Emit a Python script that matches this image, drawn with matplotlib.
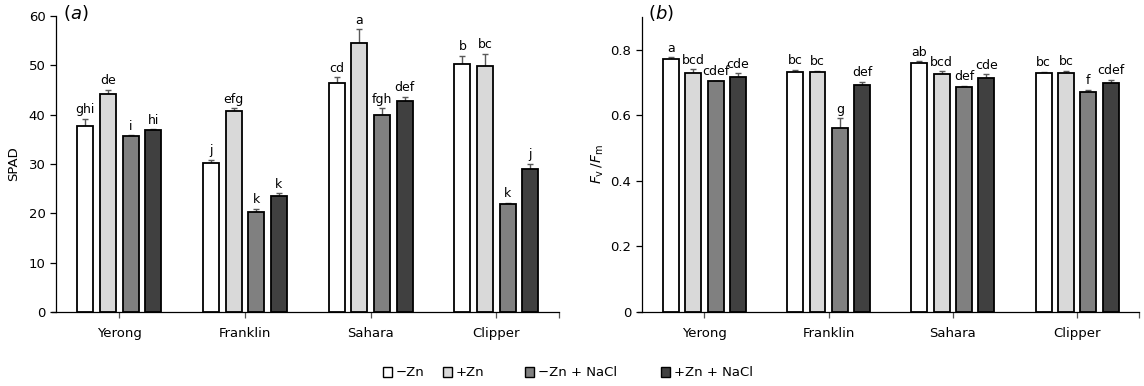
import matplotlib
matplotlib.use("Agg")
import matplotlib.pyplot as plt
from matplotlib.patches import Patch
import numpy as np

plt.rcParams['font.family'] = ['DejaVu Sans']
plt.rcParams['mathtext.fontset'] = 'dejavusans'

cultivars = ["Yerong", "Franklin", "Sahara", "Clipper"]
treatments = ["\u2212Zn", "+Zn", "\u2212Zn + NaCl", "+Zn + NaCl"]
colors = ["#ffffff", "#d9d9d9", "#808080", "#404040"]

# Panel (a) SPAD: rows = treatments, columns = cultivars
spad = [
    [37.8, 30.3, 46.4, 50.2],
    [44.2, 40.7, 54.5, 49.9],
    [35.6, 20.2, 40.0, 21.8],
    [36.8, 23.6, 42.8, 28.9],
]
spad_err = [
    [1.4, 0.5, 1.2, 1.7],
    [0.8, 0.6, 2.8, 2.4],
    [0.2, 0.7, 1.3, 0.3],
    [0.2, 0.5, 0.8, 1.1],
]
spad_letters = [
    ["ghi", "j", "cd", "b"],
    ["de", "efg", "a", "bc"],
    ["i", "k", "fgh", "k"],
    ["hi", "k", "def", "j"],
]

# Panel (b) Fv/Fm
fvfm = [
    [0.771, 0.731, 0.758, 0.729],
    [0.728, 0.730, 0.725, 0.728],
    [0.703, 0.560, 0.686, 0.672],
    [0.717, 0.693, 0.712, 0.698],
]
fvfm_err = [
    [0.005, 0.008, 0.006, 0.003],
    [0.012, 0.006, 0.008, 0.008],
    [0.002, 0.030, 0.004, 0.005],
    [0.011, 0.009, 0.013, 0.010],
]
fvfm_letters = [
    ["a", "bc", "ab", "bc"],
    ["bcd", "bc", "bcd", "bc"],
    ["cdef", "g", "def", "f"],
    ["cde", "def", "cde", "cdef"],
]

W, H = 1144, 386
fig = plt.figure(figsize=(W / 100, H / 100), dpi=100)

ax_a = fig.add_axes([52.1 / W, 74 / H, 507 / W, 296 / H])
ax_b = fig.add_axes([638 / W, 74 / H, 501.2 / W, (312 - 16.7) / H])

offsets = [-0.27, -0.09, 0.09, 0.27]
bar_w = 0.128
xc = np.arange(len(cultivars))


def draw(ax, vals, errs, letters, ylim, yticks, yticklabels):
    for i in range(len(treatments)):
        x = xc + offsets[i]
        ax.bar(x, vals[i], width=bar_w, color=colors[i], edgecolor="black",
               linewidth=1.3, zorder=3)
        ax.errorbar(x, vals[i], yerr=[np.zeros(len(errs[i])), errs[i]],
                    fmt="none", ecolor="#5a5a5a", elinewidth=1.0,
                    capsize=2.5, capthick=1.0, zorder=2)
        for j in range(len(cultivars)):
            ax.annotate(letters[i][j], (x[j], vals[i][j] + errs[i][j]),
                        xytext=(0, 4), textcoords="offset points",
                        ha="center", va="baseline", fontsize=9)
    ax.set_xlim(-0.535, 3.5)
    ax.set_ylim(*ylim)
    ax.spines["top"].set_visible(False)
    ax.spines["right"].set_visible(False)
    ax.spines["left"].set_position(("data", -0.5))
    ax.spines["left"].set_linewidth(0.9)
    ax.spines["bottom"].set_linewidth(0.9)
    ax.set_xticks(xc)
    ax.set_xticklabels(cultivars, fontsize=9.5)
    ax.set_xticks([3.5], minor=True)
    ax.tick_params(axis="x", which="both", length=4, width=0.9, color="#555555", pad=7)
    ax.set_yticks(yticks)
    ax.set_yticklabels(yticklabels, fontsize=9.5)
    ax.tick_params(axis="y", length=4, width=0.9, pad=4)


draw(ax_a, spad, spad_err, spad_letters, (0, 60),
     [0, 10, 20, 30, 40, 50, 60], ["0", "10", "20", "30", "40", "50", "60"])
draw(ax_b, fvfm, fvfm_err, fvfm_letters, (0, 0.9),
     [0, 0.2, 0.4, 0.6, 0.8], ["0", "0.2", "0.4", "0.6", "0.8"])

ax_a.set_ylabel("SPAD", fontsize=9.5)
ax_a.yaxis.set_label_coords((20 - 52.1) / 507, 0.5)
ax_b.set_ylabel(r"$F_\mathrm{v}\,/F_\mathrm{m}$", fontsize=10)
ax_b.yaxis.set_label_coords((606 - 638) / 501.2, 0.5)

fig.text(63 / W, 1 - 3 / H, r"($\mathit{a}$)", fontsize=13, ha="left", va="top")
fig.text(648 / W, 1 - 3 / H, r"($\mathit{b}$)", fontsize=13, ha="left", va="top")

# legend entries placed individually to match the uneven spacing
legend_x = [383, 443, 525, 661]
for c, lab, lx in zip(colors, treatments, legend_x):
    h = Patch(facecolor=c, edgecolor="black", linewidth=1.0)
    fig.legend([h], [lab], loc="center left", bbox_to_anchor=(lx / W, 13 / H),
               frameon=False, fontsize=9.5, handlelength=0.7,
               handleheight=0.7, handletextpad=0.25,
               borderaxespad=0, borderpad=0)

fig.savefig("out.png", dpi=100)
